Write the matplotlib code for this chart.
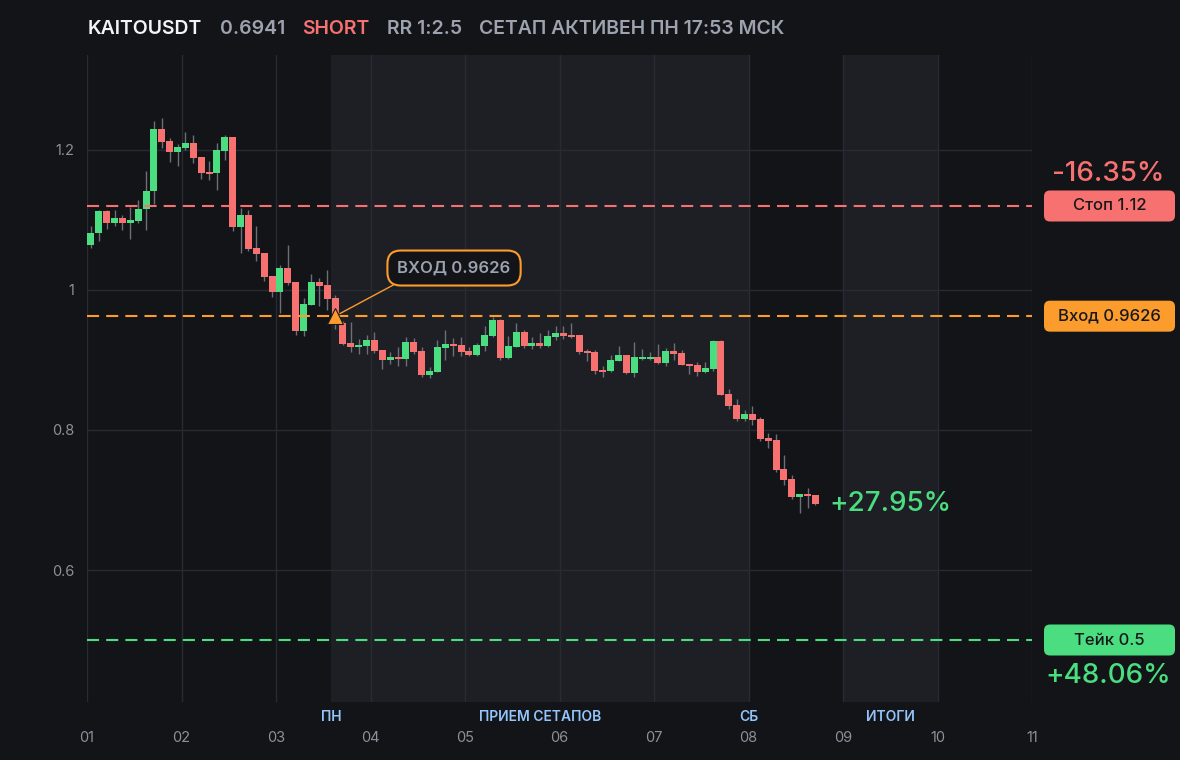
import matplotlib.pyplot as plt
from matplotlib.patches import FancyBboxPatch
from matplotlib.transforms import blended_transform_factory

plt.rcParams['font.family'] = ['Inter', 'DejaVu Sans']

# velas de 2 horas (12 por dia)
apertura = [1.064, 1.082, 1.113, 1.096, 1.103, 1.095, 1.099, 1.116, 1.141, 1.230,
            1.213, 1.197, 1.203, 1.210, 1.190, 1.169, 1.167, 1.199, 1.219, 1.090,
            1.107, 1.060, 1.053, 1.020, 0.997, 1.031, 1.011, 0.941, 0.979, 1.011,
            1.007, 0.989, 0.953, 0.924, 0.918, 0.920, 0.929, 0.914, 0.900, 0.904,
            0.901, 0.926, 0.913, 0.879, 0.883, 0.917, 0.923, 0.921, 0.913, 0.907,
            0.920, 0.934, 0.957, 0.903, 0.919, 0.940, 0.920, 0.924, 0.920, 0.933,
            0.939, 0.936, 0.936, 0.913, 0.911, 0.886, 0.884, 0.899, 0.907, 0.881,
            0.901, 0.901, 0.904, 0.896, 0.913, 0.910, 0.894, 0.893, 0.883, 0.887,
            0.927, 0.851, 0.836, 0.816, 0.823, 0.816, 0.789, 0.786, 0.744, 0.730,
            0.704, 0.709, 0.707]
maximo = [1.091, 1.114, 1.114, 1.114, 1.107, 1.119, 1.129, 1.170, 1.241, 1.246,
          1.217, 1.209, 1.226, 1.221, 1.190, 1.184, 1.210, 1.221, 1.219, 1.117,
          1.114, 1.091, 1.053, 1.020, 1.036, 1.064, 1.011, 0.989, 1.023, 1.017,
          1.029, 0.993, 0.955, 0.954, 0.930, 0.936, 0.940, 0.914, 0.911, 0.918,
          0.933, 0.931, 0.918, 0.890, 0.929, 0.943, 0.931, 0.933, 0.918, 0.924,
          0.949, 0.961, 0.959, 0.934, 0.953, 0.943, 0.933, 0.939, 0.943, 0.949,
          0.949, 0.953, 0.936, 0.916, 0.914, 0.891, 0.907, 0.920, 0.907, 0.926,
          0.916, 0.911, 0.923, 0.917, 0.924, 0.914, 0.894, 0.897, 0.897, 0.929,
          0.929, 0.859, 0.844, 0.829, 0.834, 0.819, 0.796, 0.794, 0.764, 0.736,
          0.709, 0.717, 0.707]
minimo = [1.060, 1.070, 1.087, 1.092, 1.086, 1.073, 1.096, 1.086, 1.123, 1.203,
          1.183, 1.177, 1.200, 1.181, 1.159, 1.157, 1.143, 1.186, 1.084, 1.053,
          1.056, 1.041, 1.013, 0.990, 0.967, 1.007, 0.936, 0.934, 0.978, 0.977,
          0.971, 0.944, 0.921, 0.911, 0.909, 0.909, 0.910, 0.887, 0.894, 0.891,
          0.891, 0.908, 0.876, 0.874, 0.883, 0.900, 0.906, 0.906, 0.905, 0.905,
          0.913, 0.933, 0.900, 0.902, 0.918, 0.917, 0.916, 0.917, 0.919, 0.929,
          0.930, 0.932, 0.909, 0.899, 0.880, 0.876, 0.883, 0.898, 0.880, 0.876,
          0.900, 0.900, 0.894, 0.891, 0.900, 0.893, 0.880, 0.877, 0.881, 0.884,
          0.850, 0.830, 0.813, 0.813, 0.807, 0.784, 0.774, 0.740, 0.721, 0.701,
          0.681, 0.689, 0.693]
cierre = [1.082, 1.113, 1.096, 1.103, 1.095, 1.100, 1.116, 1.141, 1.230, 1.211,
          1.197, 1.204, 1.210, 1.189, 1.167, 1.166, 1.200, 1.219, 1.090, 1.107,
          1.059, 1.051, 1.019, 0.997, 1.031, 1.010, 0.941, 0.980, 1.011, 1.006,
          0.987, 0.953, 0.923, 0.918, 0.921, 0.929, 0.913, 0.900, 0.904, 0.901,
          0.926, 0.911, 0.879, 0.884, 0.919, 0.923, 0.920, 0.911, 0.907, 0.921,
          0.936, 0.957, 0.903, 0.920, 0.940, 0.920, 0.924, 0.920, 0.934, 0.939,
          0.934, 0.933, 0.911, 0.910, 0.884, 0.883, 0.900, 0.907, 0.881, 0.904,
          0.904, 0.904, 0.896, 0.913, 0.909, 0.893, 0.891, 0.883, 0.889, 0.927,
          0.850, 0.834, 0.816, 0.823, 0.814, 0.787, 0.784, 0.743, 0.729, 0.704,
          0.709, 0.706, 0.6941]

velas_por_dia = 12
dias = ['01', '02', '03', '04', '05', '06', '07', '08', '09', '10', '11']
zonas = [(3.583, 8.0), (9.0, 10.0)]
etiquetas_zonas = [('ПН', 3.583), ('ПРИЕМ СЕТАПОВ', 5.79), ('СБ', 8.0), ('ИТОГИ', 9.5)]

stop = 1.12
entrada = 0.9626
take = 0.5
precio = 0.6941
vela_entrada = 31

fondo = '#131418'
zona_color = '#1e1f24'
verde = '#4ade80'
rojo = '#f87171'
naranja = '#fb9c2c'
gris = '#9ca3af'

fig = plt.figure(figsize=(11.8, 7.6), dpi=100)
fig.patch.set_facecolor(fondo)
ax = fig.add_axes([87 / 1180, 58 / 760, 945 / 1180, 647 / 760])
ax.set_facecolor(fondo)
ax.set_xlim(1, 11)
ax.set_ylim(0.41143, 1.33571)

for a, b in zonas:
    ax.axvspan(a, b, color=zona_color, zorder=0, lw=0)

# velas
x = [1 + (i + 0.5) / velas_por_dia for i in range(len(cierre))]
ax.vlines(x, minimo, maximo, color='#6b6f78', lw=1, zorder=2)
colores = [verde if c >= o else rojo for o, c in zip(apertura, cierre)]
alturas = [max(abs(c - o), 0.003) for o, c in zip(apertura, cierre)]
bases = [min(o, c) for o, c in zip(apertura, cierre)]
ax.bar(x, alturas, bottom=bases, width=0.9 / velas_por_dia, color=colores, zorder=3, lw=0)

# niveles
ax.axhline(stop, color=rojo, lw=1.5, ls=(0, (5.8, 3.4)), zorder=4)
ax.axhline(entrada, color=naranja, lw=1.5, ls=(0, (5.8, 3.4)), zorder=4)
ax.axhline(take, color=verde, lw=1.5, ls=(0, (5.8, 3.4)), zorder=4)

x_ent = x[vela_entrada]
ax.plot(x_ent, entrada, marker='^', ms=11, color=naranja, mec='#1a1a1a', mew=0.8, zorder=6)
ax.annotate('ВХОД 0.9626', xy=(x_ent, entrada), xytext=(4.884, 1.0314),
            ha='center', va='center', color=gris, fontsize=12, fontweight='semibold',
            bbox=dict(boxstyle='round,pad=0.6,rounding_size=0.8', fc=fondo, ec=naranja, lw=1.5),
            arrowprops=dict(arrowstyle='-', color=naranja, lw=1, relpos=(0.12, 0),
                            shrinkA=0, shrinkB=4), zorder=6)

ax.text(x[-1] + 0.15, precio, '+27.95%', color=verde, fontsize=20, fontweight='medium',
        va='center', ha='left')

# ejes
ax.set_xticks(range(1, 12))
ax.set_xticklabels(dias)
ax.set_yticks([0.6, 0.8, 1.0, 1.2])
ax.set_yticklabels(['0.6', '0.8', '1', '1.2'])
ax.tick_params(colors='#8b9099', length=0, labelsize=10.5)
ax.tick_params(axis='x', pad=21)
ax.tick_params(axis='y', pad=9)
ax.grid(color='#292b32', lw=1)
ax.set_axisbelow('line')
for s in ax.spines.values():
    s.set_visible(False)

trans = blended_transform_factory(ax.transData, ax.transAxes)
for texto, pos in etiquetas_zonas:
    ax.text(pos, -0.023, texto, transform=trans, ha='center', va='center',
            color='#93c5fd', fontsize=10, fontweight='semibold')


def etiqueta_derecha(valor, texto, color):
    y_px = ax.transData.transform((1, valor))[1]
    caja = FancyBboxPatch((1044 / 100, (y_px - 15.5) / 100), 1.31, 0.31,
                          boxstyle='round,pad=0,rounding_size=0.06',
                          transform=fig.dpi_scale_trans, fc=color, ec='none')
    fig.add_artist(caja)
    fig.text(1109.5 / 1180, y_px / 760, texto, color='#17181c', fontsize=12,
             fontweight='medium', ha='center', va='center')
    return y_px


y_stop = etiqueta_derecha(stop, 'Стоп 1.12', rojo)
etiqueta_derecha(entrada, 'Вход 0.9626', naranja)
y_take = etiqueta_derecha(take, 'Тейк 0.5', verde)
fig.text(1108 / 1180, (y_stop + 32) / 760, '-16.35%', color=rojo, fontsize=20,
         fontweight='medium', ha='center', va='center')
fig.text(1108 / 1180, (y_take - 36) / 760, '+48.06%', color=verde, fontsize=20,
         fontweight='medium', ha='center', va='center')

# titulo
t = fig.text(88 / 1180, 1 - 29 / 760, 'KAITOUSDT', color='#f3f4f6', fontsize=14,
             fontweight='semibold', va='center')
for texto, color in [('0.6941', gris), ('SHORT', rojo), ('RR 1:2.5', gris),
                     ('СЕТАП АКТИВЕН ПН 17:53 МСК', gris)]:
    t = ax.annotate(texto, xy=(1, 0.5), xycoords=t, xytext=(12.5, 0), textcoords='offset points',
                    va='center', ha='left', color=color, fontsize=14, fontweight='semibold',
                    annotation_clip=False)

fig.savefig('out.png', dpi=100, facecolor=fondo)
